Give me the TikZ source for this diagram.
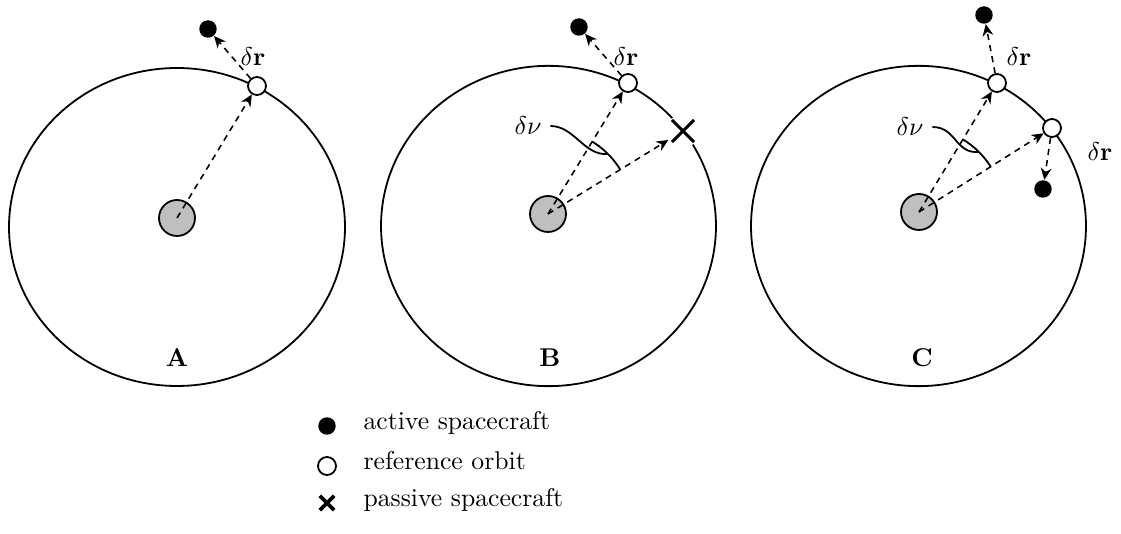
\documentclass[tikz,border=0pt]{standalone}
\usetikzlibrary{arrows.meta,angles}
\begin{document}
\begin{tikzpicture}[x=0.389pt,y=0.389pt,
  orbit/.style={line width=0.7pt},
  vec/.style={dash pattern=on 2.4pt off 2pt, line width=0.6pt,
              -{Stealth[length=4.6pt,width=4.2pt,inset=1.5pt]}},
  refpt/.style={circle, draw, line width=0.7pt, fill=white, minimum size=7pt, inner sep=0pt},
  active/.style={circle, fill=black, minimum size=6.8pt, inner sep=0pt},
  sun/.style={circle, draw, line width=0.7pt, fill=black!25, minimum size=14pt, inner sep=0pt},
  passive/.style={circle, fill=white, minimum size=13pt, inner sep=0pt},
  crossmark/.style={line width=1.2pt},
  anglearc/.style={draw, line width=0.7pt, angle radius=33pt},
  pointer/.style={line width=0.7pt},
  legtext/.style={anchor=base west, inner sep=0pt}]

\useasboundingbox (0,0) rectangle (1121,-534);

% ---- Panel A ----
\draw[orbit] (177,-227) ellipse [x radius=65.35pt, y radius=61.85pt];
\node[sun] (sA) at (177,-218) {};
\node[refpt] (rA) at (257,-86) {};
\node[active] (aA) at (208,-29) {};
\draw[vec] (sA.center) -- (rA);
\draw[vec] (rA) -- (aA);
\node (drA) at (253,-57) {$\delta\mathbf{r}$};
\node (lA) at (177,-358) {\textbf{A}};

% ---- Panel B ----
\draw[orbit] (548.5,-226) ellipse [x radius=65.15pt, y radius=62.3pt];
\node[sun] (sB) at (548,-214) {};
\node[refpt] (rB) at (628,-83) {};
\node[active] (aB) at (579,-27) {};
\node[passive] (xB) at (683,-131) {};
\draw[crossmark] ([shift={(-4.3pt,-4.3pt)}]xB.center) -- ([shift={(4.3pt,4.3pt)}]xB.center)
                 ([shift={(-4.3pt,4.3pt)}]xB.center) -- ([shift={(4.3pt,-4.3pt)}]xB.center);
\draw[vec] (sB.center) -- (rB);
\draw[vec] (sB.center) -- (xB);
\draw[vec] (rB) -- (aB);
\pic[anglearc] {angle = xB--sB--rB};
\node (drB) at (626,-57) {$\delta\mathbf{r}$};
\node (nuB) at (528,-126) {$\delta\nu$};
\coordinate (mB) at ([shift={(45:33pt)}]sB.center);
\draw[pointer] (nuB.east) .. controls +(24,0) and +(-24,-2) .. (mB);
\node (lB) at (550,-358) {\textbf{B}};

% ---- Panel C ----
\draw[orbit] (918.5,-226) ellipse [x radius=65.15pt, y radius=62.3pt];
\node[sun] (sC) at (919,-212) {};
\node[refpt] (rC) at (997,-83) {};
\node[active] (aC) at (984,-15) {};
\node[refpt] (rC2) at (1052,-128) {};
\node[active] (aC2) at (1043,-189) {};
\draw[vec] (sC.center) -- (rC);
\draw[vec] (sC.center) -- (rC2);
\draw[vec] (rC) -- (aC);
\draw[vec] (rC2) -- (aC2);
\pic[anglearc] {angle = rC2--sC--rC};
\node (drC) at (1019,-57) {$\delta\mathbf{r}$};
\node (drC2) at (1100,-152) {$\delta\mathbf{r}$};
\node (nuC) at (910,-127) {$\delta\nu$};
\coordinate (mC) at ([shift={(45:33pt)}]sC.center);
\draw[pointer] (nuC.east) .. controls +(24,0) and +(-24,-2) .. (mC);
\node (lC) at (922,-358) {\textbf{C}};

% ---- Legend ----
\node[active] (la) at (327,-426) {};
\node[refpt] (lr) at (327,-466) {};
\coordinate (lx) at (327,-503);
\draw[line width=1.5pt] ([shift={(-2.8pt,-2.8pt)}]lx) -- ([shift={(2.8pt,2.8pt)}]lx)
                        ([shift={(-2.8pt,2.8pt)}]lx) -- ([shift={(2.8pt,-2.8pt)}]lx);
\node[legtext] (ta) at (363,-430) {active spacecraft};
\node[legtext] (tr) at (363,-470) {reference orbit};
\node[legtext] (tx) at (363,-507) {passive spacecraft};
\end{tikzpicture}
\end{document}
